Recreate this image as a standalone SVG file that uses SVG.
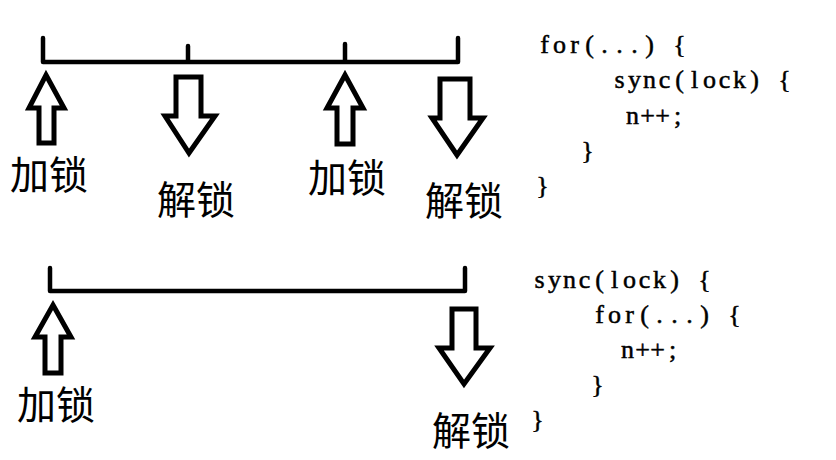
<svg xmlns="http://www.w3.org/2000/svg" width="836" height="460" viewBox="0 0 836 460">
<style>
.ln{stroke:#000;stroke-width:4.5;fill:none;stroke-linecap:round;stroke-linejoin:round}
.ar{stroke:#000;stroke-width:5;fill:#fff;stroke-linejoin:miter}
.cj{font-family:"Noto Sans CJK SC","Noto Sans CJK JP",sans-serif;font-size:39px;fill:#000}
.cd{font-family:"Liberation Serif",serif;font-size:26px;fill:#000;stroke:#000;stroke-width:0.5;text-anchor:middle}
</style>
<rect width="836" height="460" fill="#fff"/>
<g id="connectors">
<path class="ln" d="M43,38 V62 H458 V38 M188,46 V62 M345,44 V62"/>
<path class="ln" d="M50,268 V291 H465 V268"/>
</g>
<g id="lock1">
<polygon class="ar" points="46,75 64,108 54,108 54,143 39,143 39,108 29,108"/>
<text class="cj" x="10" y="189">加锁</text>
</g>
<g id="unlock1">
<polygon class="ar" points="176,77 201,77 201,116 215,116 189,153 165,116 176,116"/>
<text class="cj" x="157" y="214">解锁</text>
</g>
<g id="lock2">
<polygon class="ar" points="345,75 363,108 353,108 353,144 337,144 337,108 327,108"/>
<text class="cj" x="308" y="192">加锁</text>
</g>
<g id="unlock2">
<polygon class="ar" points="440,79 470,79 470,118 483,118 457,155 432,118 440,118"/>
<text class="cj" x="425" y="215">解锁</text>
</g>
<g id="lock3">
<polygon class="ar" points="53,305 71,337 61,337 61,373 45,373 45,337 35,337"/>
<text class="cj" x="17" y="419">加锁</text>
</g>
<g id="unlock3">
<polygon class="ar" points="452,309 476,309 476,348 490,348 464,384 439,348 452,348"/>
<text class="cj" x="432" y="445">解锁</text>
</g>
<g id="code1">
<text class="cd" x="544.5 559.5 574.5 589.5 604.5 619.5 634.5 649.5 664.5 679.5" y="53">for(...) {</text>
<text class="cd" x="619.5 634.5 649.5 664.5 679.5 694.5 709.5 724.5 739.5 754.5 769.5 784.5" y="88">sync(lock) {</text>
<text class="cd" x="632.5 647.5 662.5 677.5" y="124">n++;</text>
<text class="cd" x="587.5" y="159">}</text>
<text class="cd" x="542.5" y="194">}</text>
</g>
<g id="code2">
<text class="cd" x="539.5 554.5 569.5 584.5 599.5 614.5 629.5 644.5 659.5 674.5 689.5 704.5" y="288">sync(lock) {</text>
<text class="cd" x="599.5 614.5 629.5 644.5 659.5 674.5 689.5 704.5 719.5 734.5" y="323">for(...) {</text>
<text class="cd" x="627.5 642.5 657.5 672.5" y="358">n++;</text>
<text class="cd" x="597.5" y="393">}</text>
<text class="cd" x="537.5" y="428">}</text>
</g>
</svg>
